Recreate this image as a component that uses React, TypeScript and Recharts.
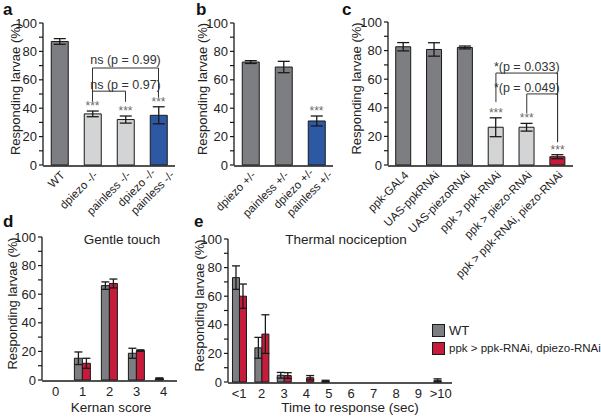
import React from "react";
import {
  BarChart,
  Bar,
  XAxis,
  YAxis,
  ErrorBar,
  Cell,
  ReferenceLine,
  ReferenceDot,
} from "recharts";

const FONT = '"Liberation Sans", Arial, Helvetica, sans-serif';
const DARK = "#7d7e81";
const LIGHT = "#d3d4d5";
const BLUE = "#2c58a4";
const RED = "#c61b3a";
const INK = "#1a1a1a";
const SIG = "#6a6a6a";

// panel a
const aCats = ["WT", "dpiezo -/-", "painless -/-", "dpiezo -/-\npainless -/-"];
const aVals = [87, 36, 32, 35];
const aErr = [2, 2, 2.5, 6];
const aSig = ["", "***", "***", "***"];
const aColors = [DARK, LIGHT, LIGHT, BLUE];

// panel b
const bCats = ["dpiezo +/-", "painless +/-", "dpiezo +/-\npainless +/-"];
const bVals = [72.5, 69, 31];
const bErr = [1, 4, 3.5];
const bSig = ["", "", "***"];
const bColors = [DARK, DARK, BLUE];

// panel c
const cCats = [
  "ppk-GAL4",
  "UAS-ppkRNAi",
  "UAS-piezoRNAi",
  "ppk > ppk-RNAi",
  "ppk > piezo-RNAi",
  "ppk > ppk-RNAi, piezo-RNAi",
];
const cVals = [82.7, 80.8, 82.2, 26.4, 26.4, 5.8];
const cErr = [2.9, 4.7, 1, 6.6, 2.7, 1.4];
const cSig = ["", "", "", "***", "***", "***"];
const cColors = [DARK, DARK, DARK, LIGHT, LIGHT, RED];

// panel d (gentle touch)
const dCats = ["0", "1", "2", "3", "4"];
const dWt = [0, 15.2, 66, 18.7, 1];
const dWtErr = [0, 4.4, 2.6, 3.5, 0.5];
const dRnai = [0, 11.7, 67.5, 20.6, 0];
const dRnaiErr = [0, 3.5, 3.1, 0.5, 0];

// panel e (thermal nociception)
const eCats = ["<1", "2", "3", "4", "5", "6", "7", "8", "9", ">10"];
const eWt = [73, 23.9, 4.7, 0, 0.7, 0, 0, 0, 0, 1.2];
const eWtErr = [8.2, 7.3, 2, 0, 0.5, 0, 0, 0, 0, 1];
const eRnai = [60, 33.5, 4.5, 3, 0, 0, 0, 0, 0, 0];
const eRnaiErr = [8.5, 13.5, 2, 1.5, 0, 0, 0, 0, 0, 0];

const seriesNames = ["WT", "ppk > ppk-RNAi, dpiezo-RNAi"];
const yTicks = [0, 10, 20, 30, 40, 50, 60, 70, 80, 90, 100];

const single = (cats: string[], vals: number[], errs: number[], sig: string[]) =>
  cats.map((name, i) => ({ name, v: vals[i], err: errs[i], sig: sig[i], top: vals[i] + errs[i] }));

const paired = (cats: string[], wt: number[], wtErr: number[], rn: number[], rnErr: number[]) =>
  cats.map((name, i) => ({ name, wt: wt[i], wtErr: wtErr[i], rn: rn[i], rnErr: rnErr[i] }));

const RotTick = (props: any) => {
  const { x, y, payload } = props;
  const lines = String(payload.value).split("\n");
  return (
    <g transform={`translate(${x + 3},${y + 8})`}>
      <text transform="rotate(-45)" textAnchor="end" fontSize={11.5} fill="#222" fontFamily={FONT}>
        {lines.length === 1 ? (
          <tspan x={0} dy="0.35em">{lines[0]}</tspan>
        ) : (
          <>
            <tspan x={-4} dy="-0.3em">{lines[0]}</tspan>
            <tspan x={8} dy="1.3em">{lines[1]}</tspan>
          </>
        )}
      </text>
    </g>
  );
};

const FlatTick = (props: any) => {
  const { x, y, payload } = props;
  return (
    <text x={x} y={y + 11} dy="0.36em" textAnchor="middle" fontSize={13} fill="#222" fontFamily={FONT}>
      {payload.value}
    </text>
  );
};

const yLabel = (dx: number) => (p: any) => {
  const vb = p.viewBox;
  const cx = vb.x + dx;
  const cy = vb.y + vb.height / 2 - 5;
  return (
    <text
      x={cx}
      y={cy}
      dy="0.35em"
      transform={`rotate(-90, ${cx}, ${cy})`}
      textAnchor="middle"
      fontSize={13}
      fill="#222"
      fontFamily={FONT}
    >
      Responding larvae (%)
    </text>
  );
};

// text anchored at a data point
const note = (text: string, size: number, fill: string, baselineShift: number) => (p: any) => {
  const vb = p.viewBox;
  const cx = vb.x + vb.width / 2;
  const cy = vb.y + vb.height / 2;
  return (
    <text x={cx} y={cy + baselineShift} textAnchor="middle" fontSize={size} fill={fill} fontFamily={FONT}>
      {text}
    </text>
  );
};

const axes = (cats: string[], yWidth: number, labelDx: number, rotated: boolean) => {
  const bounds = cats.map((_, i) => i - 0.5).concat([cats.length - 0.5]);
  return [
    <XAxis
      key="grid"
      xAxisId="grid"
      type="number"
      domain={[-0.5, cats.length - 0.5]}
      ticks={bounds}
      allowDataOverflow
      height={1}
      tick={false}
      tickSize={4}
      axisLine={{ stroke: INK, strokeWidth: 1.3 }}
      tickLine={{ stroke: INK, strokeWidth: 1.2 }}
    />,
    <XAxis
      key="cat"
      xAxisId="cat"
      dataKey="name"
      type="category"
      height={1}
      interval={0}
      axisLine={false}
      tickLine={false}
      tickSize={0}
      tickMargin={0}
      tick={rotated ? <RotTick /> : <FlatTick />}
    />,
    <YAxis
      key="y"
      type="number"
      domain={[0, 100]}
      ticks={yTicks}
      interval={0}
      width={yWidth}
      tickSize={4}
      tickMargin={2}
      tickFormatter={(v: number) => (v % 20 === 0 ? String(v) : "")}
      tick={{ fontSize: 13, fill: "#222", fontFamily: FONT }}
      axisLine={{ stroke: INK, strokeWidth: 1.3 }}
      tickLine={{ stroke: INK, strokeWidth: 1.2 }}
      label={{ content: yLabel(labelDx) }}
    />,
  ];
};

const stars = (rows: any[]) =>
  rows
    .filter((r) => r.sig)
    .map((r) => (
      <ReferenceDot
        key={"s" + r.name}
        xAxisId="cat"
        x={r.name}
        y={r.top}
        r={1}
        fill="none"
        stroke="none"
        ifOverflow="visible"
        label={{ content: note(r.sig, 12, SIG, -1) }}
      />
    ));

const seg = (key: string, x1: string, y1: number, x2: string, y2: number) => (
  <ReferenceLine
    key={key}
    xAxisId="cat"
    segment={[{ x: x1, y: y1 }, { x: x2, y: y2 }]}
    stroke="#333"
    strokeWidth={1}
    ifOverflow="visible"
  />
);

const bracket = (key: string, from: string, to: string, top: number, yFrom: number, yTo: number) => [
  seg(key + "l", from, yFrom, from, top),
  seg(key + "h", from, top, to, top),
  seg(key + "r", to, top, to, yTo),
];

const pText = (key: string, at: string, y: number, text: string) => (
  <ReferenceDot
    key={key}
    xAxisId="cat"
    x={at}
    y={y}
    r={1}
    fill="none"
    stroke="none"
    ifOverflow="visible"
    label={{ content: note(text, 12.5, "#333", 4.5) }}
  />
);

const letter = (ch: string, left: number, top: number) => (
  <div
    style={{
      position: "absolute",
      left,
      top,
      fontSize: 17,
      lineHeight: "17px",
      fontWeight: 700,
      fontFamily: FONT,
      color: "#111",
    }}
  >
    {ch}
  </div>
);

const centered = (text: string, cx: number, top: number) => (
  <div
    style={{
      position: "absolute",
      left: cx,
      top,
      transform: "translateX(-50%)",
      whiteSpace: "nowrap",
      fontSize: 13.5,
      lineHeight: "16px",
      fontFamily: FONT,
      color: "#222",
    }}
  >
    {text}
  </div>
);

export default function App() {
  const aRows = single(aCats, aVals, aErr, aSig);
  const bRows = single(bCats, bVals, bErr, bSig);
  const cRows = single(cCats, cVals, cErr, cSig);
  const dRows = paired(dCats, dWt, dWtErr, dRnai, dRnaiErr);
  const eRows = paired(eCats, eWt, eWtErr, eRnai, eRnaiErr);

  return (
    <div style={{ position: "absolute", left: 0, top: 0, width: 601, height: 418, background: "#fff", overflow: "hidden" }}>
      {/* a */}
      <div style={{ position: "absolute", left: 0, top: 0 }}>
        <BarChart width={200} height={235} data={aRows} margin={{ top: 23, right: 25, left: 0, bottom: 68 }} barCategoryGap="25%">
          {axes(aCats, 43, 15.5, true)}
          <Bar xAxisId="cat" dataKey="v" stroke={INK} strokeWidth={1} isAnimationActive={false}>
            {aRows.map((r, i) => (
              <Cell key={r.name} fill={aColors[i]} />
            ))}
            <ErrorBar dataKey="err" width={6} stroke={INK} strokeWidth={1.3} />
          </Bar>
          {stars(aRows)}
          {bracket("o", aCats[1], aCats[3], 68.3, 44.5, 47.5)}
          {bracket("i", aCats[1], aCats[2], 52, 44.5, 44.5)}
          {pText("t1", aCats[2], 74.6, "ns (p = 0.99)")}
          {pText("t2", aCats[2], 57, "ns (p = 0.97)")}
        </BarChart>
      </div>

      {/* b */}
      <div style={{ position: "absolute", left: 195, top: 0 }}>
        <BarChart width={150} height={235} data={bRows} margin={{ top: 23, right: 12, left: 0, bottom: 68 }} barCategoryGap="25%">
          {axes(bCats, 39, 7, true)}
          <Bar xAxisId="cat" dataKey="v" stroke={INK} strokeWidth={1} isAnimationActive={false}>
            {bRows.map((r, i) => (
              <Cell key={r.name} fill={bColors[i]} />
            ))}
            <ErrorBar dataKey="err" width={6} stroke={INK} strokeWidth={1.3} />
          </Bar>
          {stars(bRows)}
        </BarChart>
      </div>

      {/* c */}
      <div style={{ position: "absolute", left: 340, top: 0 }}>
        <BarChart width={261} height={290} data={cRows} margin={{ top: 22, right: 28, left: 0, bottom: 123 }} barCategoryGap="25%">
          {axes(cCats, 48, 16, true)}
          <Bar xAxisId="cat" dataKey="v" stroke={INK} strokeWidth={1} isAnimationActive={false}>
            {cRows.map((r, i) => (
              <Cell key={r.name} fill={cColors[i]} />
            ))}
            <ErrorBar dataKey="err" width={6} stroke={INK} strokeWidth={1.3} />
          </Bar>
          {stars(cRows)}
          {bracket("o", cCats[3], cCats[5], 64.3, 44, 16)}
          {bracket("i", cCats[4], cCats[5], 49.7, 36.4, 16)}
          {pText("t1", cCats[4], 69.2, "*(p = 0.033)")}
          {pText("t2", cCats[4], 54.5, "*(p = 0.049)")}
        </BarChart>
      </div>

      {/* d */}
      <div style={{ position: "absolute", left: 0, top: 205 }}>
        <BarChart width={200} height={213} data={dRows} margin={{ top: 32, right: 23, left: 0, bottom: 36 }} barCategoryGap="20%" barGap={0}>
          {axes(dCats, 42, 12, false)}
          <Bar xAxisId="cat" dataKey="wt" name={seriesNames[0]} fill={DARK} stroke={INK} strokeWidth={1} isAnimationActive={false}>
            <ErrorBar dataKey="wtErr" width={4} stroke={INK} strokeWidth={1.3} />
          </Bar>
          <Bar xAxisId="cat" dataKey="rn" name={seriesNames[1]} fill={RED} stroke={INK} strokeWidth={1} isAnimationActive={false}>
            <ErrorBar dataKey="rnErr" width={4} stroke={INK} strokeWidth={1.3} />
          </Bar>
        </BarChart>
      </div>

      {/* e */}
      <div style={{ position: "absolute", left: 188, top: 205 }}>
        <BarChart width={413} height={213} data={eRows} margin={{ top: 34, right: 149, left: 0, bottom: 34 }} barCategoryGap="20%" barGap={0}>
          {axes(eCats, 40, 11, false)}
          <Bar xAxisId="cat" dataKey="wt" name={seriesNames[0]} fill={DARK} stroke={INK} strokeWidth={1} isAnimationActive={false}>
            <ErrorBar dataKey="wtErr" width={4} stroke={INK} strokeWidth={1.3} />
          </Bar>
          <Bar xAxisId="cat" dataKey="rn" name={seriesNames[1]} fill={RED} stroke={INK} strokeWidth={1} isAnimationActive={false}>
            <ErrorBar dataKey="rnErr" width={4} stroke={INK} strokeWidth={1.3} />
          </Bar>
        </BarChart>
      </div>

      {letter("a", 3, 1)}
      {letter("b", 196, 1)}
      {letter("c", 342, 1)}
      {letter("d", 3, 213)}
      {letter("e", 194, 213)}

      {centered("Gentle touch", 122, 232)}
      {centered("Thermal nociception", 346, 232)}
      {centered("Kernan score", 111, 400)}
      {centered("Time to response (sec)", 350, 400)}

      {/* legend */}
      <div style={{ position: "absolute", left: 432, top: 321, fontFamily: FONT, fontSize: 11.5, color: "#222", whiteSpace: "nowrap" }}>
        {seriesNames.map((n, i) => (
          <div key={n} style={{ display: "flex", alignItems: "center", height: 18 }}>
            <div
              style={{
                width: 11,
                height: 11,
                background: i === 0 ? DARK : RED,
                border: `1.3px solid ${INK}`,
                marginRight: 4,
              }}
            />
            <span style={{ fontSize: i === 0 ? 13 : 11.5 }}>{n}</span>
          </div>
        ))}
      </div>
    </div>
  );
}
